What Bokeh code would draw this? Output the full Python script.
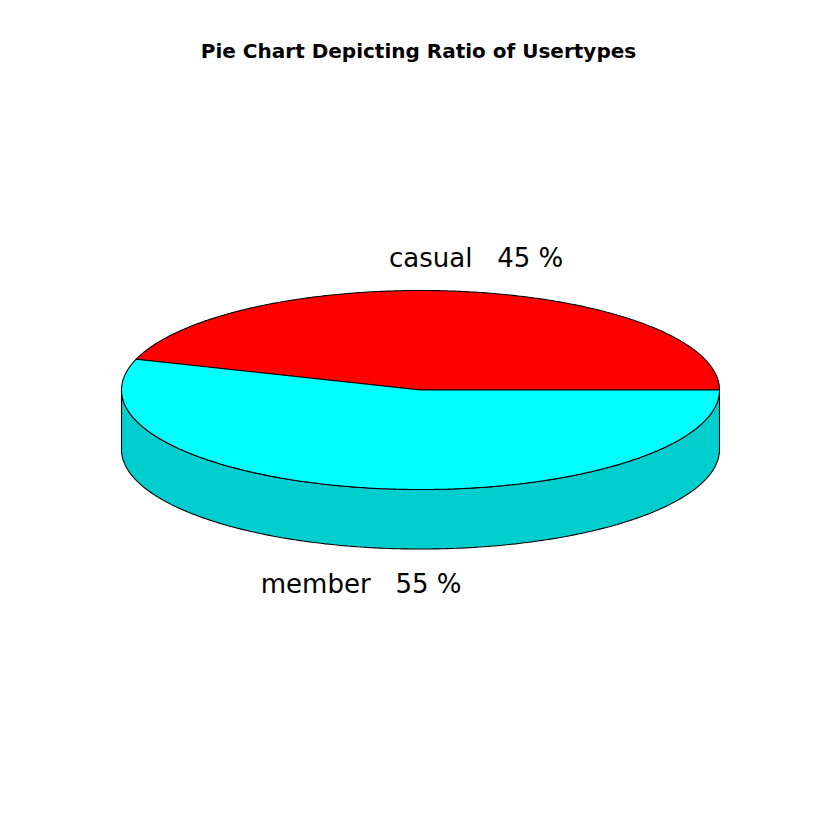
import numpy as np
from bokeh.plotting import figure
from bokeh.core.properties import value
from bokeh.embed import file_html
from bokeh.resources import INLINE

# ---- data ----
categories = ["casual", "member"]
shares = [45, 55]
top_colors = ["#FF0000", "#00FFFF"]
side_colors = ["#CD0000", "#00CDCD"]
title_text = "Pie Chart Depicting Ratio of Usertypes"

# ---- layout (screen-pixel coordinates) ----
W = H = 824
cx, cy = 420.0, 389.5
rx, ry = 299.0, 99.5
depth = 59.5

p = figure(width=W, height=H, output_backend="svg", toolbar_location=None,
           x_range=(0, W), y_range=(H, 0), min_border=0)
p.axis.visible = False
p.grid.visible = False
p.outline_line_color = None
p.background_fill_color = "white"
p.border_fill_color = "white"

total = float(sum(shares))
fracs = np.array(shares) / total
starts = np.concatenate([[0.0], np.cumsum(fracs)[:-1]]) * 2 * np.pi
ends = np.cumsum(fracs) * 2 * np.pi

def ex(a):
    return cx + rx * np.cos(a)

def ey(a, d=0.0):
    return cy - ry * np.sin(a) + d

# side walls (visible part: angles between pi and 2pi)
for s, e, sc in zip(starts, ends, side_colors):
    lo, hi = max(s, np.pi), min(e, 2 * np.pi)
    if hi <= lo:
        continue
    a = np.linspace(lo, hi, 200)
    xs = np.concatenate([ex(a), ex(a[::-1])])
    ys = np.concatenate([ey(a), ey(a[::-1], depth)])
    p.patch(xs, ys, fill_color=sc, line_color="black", line_width=1.1)

# top faces
for s, e, tc in zip(starts, ends, top_colors):
    a = np.linspace(s, e, 300)
    xs = np.concatenate([[cx], ex(a), [cx]])
    ys = np.concatenate([[cy], ey(a), [cy]])
    p.patch(xs, ys, fill_color=tc, line_color="black", line_width=1.1)

# labels
gap = "\u00a0\u00a0\u00a0"
for cat, sh, s, e in zip(categories, shares, starts, ends):
    mid = (s + e) / 2
    upper = np.sin(mid) > 0
    lr = 1.19 if upper else 1.27
    lx = cx + rx * lr * np.cos(mid)
    ly = cy - ry * 1.19 * np.sin(mid) + (0 if upper else depth + 3)
    p.text(x=[lx], y=[ly], text=[f"{cat}{gap}{sh}\u00a0%"], text_align="center",
           text_baseline="bottom" if upper else "top",
           text_font=value("DejaVu Sans"), text_font_size="26px", text_color="black")

# title
p.text(x=[cx - 2], y=[50], text=[title_text], text_align="center", text_baseline="middle",
       text_font=value("DejaVu Sans"), text_font_style="bold", text_font_size="20px",
       text_color="black")

open("out.html", "w").write(file_html(p, INLINE))
